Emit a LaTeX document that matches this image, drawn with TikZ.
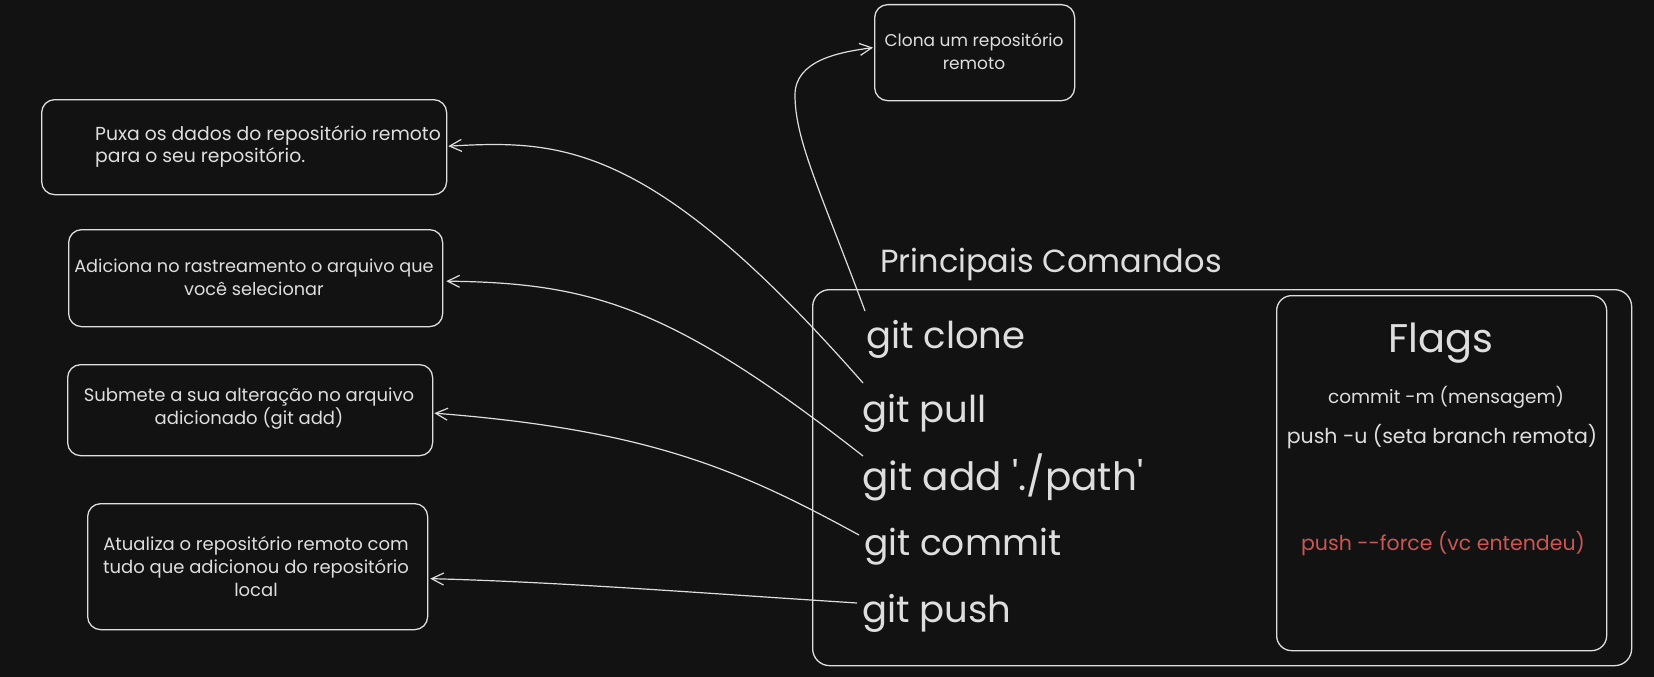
\documentclass[tikz,border=0pt]{standalone}
\usepackage{fontspec}
\setmainfont{Poppins}
\usetikzlibrary{arrows.meta,calc}
\definecolor{bgc}{HTML}{121212}
\definecolor{fgc}{HTML}{DEDEDE}
\definecolor{redc}{HTML}{CC5656}
\begin{document}
\begin{tikzpicture}[x=1pt,y=-1pt,
  box/.style={draw=fgc,line width=1.3pt,rounded corners=13pt,inner sep=0pt,anchor=north west},
  txt/.style={text=fgc,font=\fontsize{18}{23}\selectfont,inner sep=0pt,align=center},
  cmd/.style={text=fgc,font=\fontsize{37}{44}\selectfont,inner sep=0pt,anchor=base west},
  flag/.style={text=fgc,font=\fontsize{20}{23}\selectfont,inner sep=0pt,anchor=base},
  arr/.style={draw=fgc,line width=1.2pt,-{Straight Barb[length=12pt,width=12pt]}}]
\fill[bgc] (0,0) rectangle (1654,677);
\useasboundingbox (0,0) rectangle (1654,677);

% description boxes
\node[box,minimum width=200,minimum height=96] (clonebox) at (874,4) {};
\node[txt,font=\fontsize{17}{23}\selectfont] (tclone) at (974,51) {Clona um repositório\\remoto};

\node[box,minimum width=405,minimum height=95] (puxa) at (41,99) {};
\node[txt,anchor=west,align=left,font=\fontsize{18.8}{22}\selectfont] (tpuxa) at (95,147) {Puxa os dados do repositório remoto\\para o seu repositório.};

\node[box,minimum width=374,minimum height=97] (adic) at (68,229) {};
\node[txt,font=\fontsize{17.7}{23}\selectfont] (tadic) at (254,277) {Adiciona no rastreamento o arquivo que\\você selecionar};

\node[box,minimum width=365,minimum height=91] (subm) at (67,364) {};
\node[txt] (tsubm) at (249,409) {Submete a sua alteração no arquivo\\adicionado (git add)};

\node[box,minimum width=340,minimum height=126] (atual) at (87,503) {};
\node[txt] (tatual) at (256,566) {Atualiza o repositório remoto com\\tudo que adicionou do repositório\\local};

% main box
\node[box,rounded corners=17pt,minimum width=819,minimum height=376] (mainbox) at (812,289) {};
\node[text=fgc,font=\fontsize{32}{36}\selectfont,inner sep=0pt,anchor=base west] (title) at (880,272) {Principais Comandos};

\node[cmd] (gclone) at (866,348) {git clone};
\node[cmd] (gpull) at (862,422) {git pull};
\node[cmd,font=\fontsize{39}{44}\selectfont] (gadd) at (862,490) {git add \textquotesingle./path\textquotesingle};
\node[cmd,font=\fontsize{36}{44}\selectfont] (gcommit) at (864,555) {git commit};
\node[cmd] (gpush) at (862,622) {git push};

% flags box
\node[box,rounded corners=15pt,minimum width=330,minimum height=355] (flagbox) at (1276,295) {};
\node[flag,font=\fontsize{40}{44}\selectfont] (tflags) at (1441,352) {Flags};
\node[flag,font=\fontsize{18.5}{23}\selectfont] (f1) at (1446,403) {commit -m (mensagem)};
\node[flag,font=\fontsize{20.5}{23}\selectfont] (f2) at (1442,443) {push -u (seta branch remota)};
\node[flag,font=\fontsize{20.5}{23}\selectfont,text=redc] (f3) at (1443,550) {push -{}-force (vc entendeu)};

% connectors
\draw[arr] ($(gclone.base west)+(-1,-37)$) .. controls (820,190) and (795,140) .. (795,95)
  .. controls (795,60) and (840,52) .. ($(clonebox.west)+(-1,-5)$);
\draw[arr] ($(gpull.base west)+(1,-39)$) .. controls (650,140) and (560,140) .. ($(puxa.east)+(1,-1)$);
\draw[arr] ($(gadd.base west)+(1,-34)$) .. controls (670,305) and (590,283) .. ($(adic.east)+(3,3)$);
\draw[arr] ($(gcommit.base west)+(-5,-20)$) .. controls (740,470) and (650,430) .. ($(subm.east)+(1,3)$);
\draw[arr] ($(gpush.base west)+(-5,-19)$) .. controls (700,593) and (560,582) .. ($(atual.east)+(2,12)$);
\end{tikzpicture}
\end{document}
